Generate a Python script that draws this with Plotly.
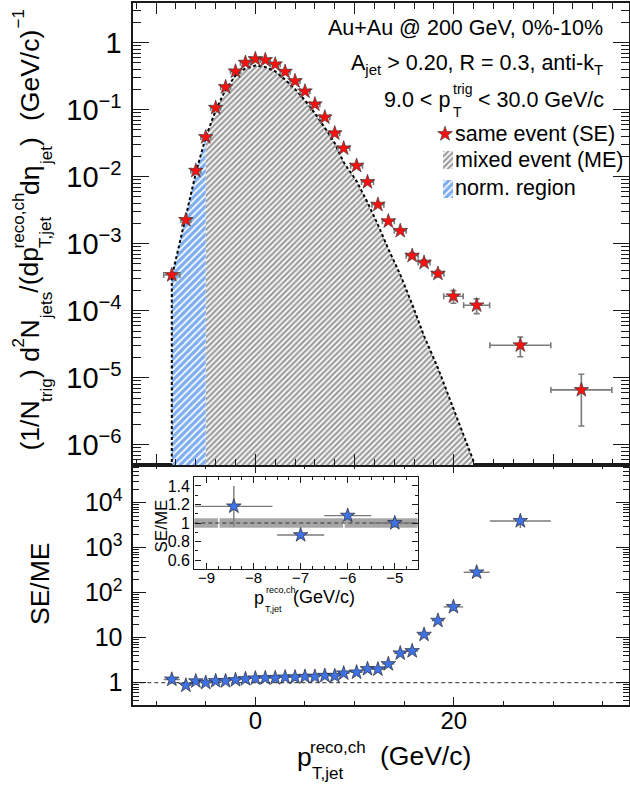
import plotly.graph_objects as go

W, H = 630, 785
FONT = "Liberation Sans, Arial, Helvetica, sans-serif"

# ---------------- data ----------------
bin_centers = [-8.42, -7.0, -6.0, -5.0, -4.0, -3.0, -2.0, -1.0, 0.0, 1.0,
               2.0, 3.0, 4.0, 5.0, 6.0, 7.0, 8.0, 8.9, 10.2, 11.3,
               12.35, 13.4, 14.6, 15.8, 17.0, 18.4, 19.96, 22.3, 26.7, 32.85]
bin_halfwidths = [0.82, 0.5, 0.5, 0.5, 0.5, 0.5, 0.5, 0.5, 0.5, 0.5,
                  0.5, 0.5, 0.5, 0.5, 0.5, 0.5, 0.5, 0.6, 0.6, 0.6,
                  0.6, 0.6, 0.6, 0.6, 0.6, 0.6, 0.98, 1.31, 3.07, 3.07]

se_values = [3.43e-4, 2.27e-3, 1.23e-2, 3.92e-2, 0.107, 0.218, 0.374, 0.503, 0.571, 0.552,
             0.476, 0.369, 0.268, 0.188, 0.1205, 0.0771, 0.0446, 0.0266, 0.01465, 0.00836,
             0.00384, 0.00217, 0.00156, 6.65e-4, 5.24e-4, 3.59e-4, 1.65e-4, 1.21e-4, 3.07e-5, 6.61e-6]
se_errors = [1.5e-5, 5e-5, 2e-4, 5e-4, 1e-3, 2e-3, 3e-3, 4e-3, 4e-3, 4e-3,
             4e-3, 3e-3, 3e-3, 2e-3, 1.5e-3, 1e-3, 7e-4, 5e-4, 3e-4, 2e-4,
             1.2e-4, 9e-5, 8e-5, 6e-5, 5e-5, 4e-5, 3.5e-5, 3e-5, 1.0e-5, 4.7e-6]

me_values = [3.2e-4, 2.6e-3, 1.14e-2, 3.9e-2, 0.098, 0.20, 0.325, 0.416, 0.457, 0.435,
             0.375, 0.28, 0.203, 0.138, 0.0886, 0.0539, 0.0316, 0.0164, 0.00862, 0.00414,
             0.00193, 8.35e-4, 3.47e-4, 1.25e-4, 4.2e-5, 1.4e-5, 3.4e-6, 4.3e-7]
norm_region_bins = 4  # bins -8.5 .. -5 GeV/c

ratio_values = [1.18, 0.87, 1.08, 1.00, 1.09, 1.09, 1.15, 1.21, 1.25, 1.27,
                1.27, 1.32, 1.32, 1.36, 1.36, 1.43, 1.41, 1.62, 1.70, 2.02,
                1.99, 2.60, 4.50, 5.06, 11.7, 23.9, 48.4, 284, 3930]
ratio_errors = [0.22, 0.04, 0.04, 0.04, 0.03, 0.02, 0.02, 0.02, 0.02, 0.02,
                0.02, 0.02, 0.02, 0.02, 0.03, 0.03, 0.04, 0.05, 0.06, 0.08,
                0.1, 0.15, 0.35, 0.6, 1.5, 3.5, 9, 60, 1200]
inset_points = 4

band_edges = [-9.3, -8.74, -6.08, -4.5]
band_low, band_high = 0.94, 1.06

up_tickvals = [1e-6, 1e-5, 1e-4, 1e-3, 1e-2, 1e-1, 1]
up_ticktext = ["10<sup>\u22126</sup>", "10<sup>\u22125</sup>", "10<sup>\u22124</sup>",
               "10<sup>\u22123</sup>", "10<sup>\u22122</sup>", "10<sup>\u22121</sup>", "1"]
lo_tickvals = [1, 10, 100, 1000, 10000]
lo_ticktext = ["1", "10", "10<sup>2</sup>", "10<sup>3</sup>", "10<sup>4</sup>"]
in_y_tickvals = [0.6, 0.8, 1.0, 1.2, 1.4]
in_y_ticktext = ["0.6", "0.8", "1", "1.2", "1.4"]

# ---------------- geometry / style ----------------
X_RANGE = [-12.3, 37.6]
UP_RANGE = [-6.30, 0.597]
LO_RANGE = [-0.496, 4.838]
IN_X_RANGE = [-9.26, -4.5]
IN_Y_RANGE = [0.5, 1.5]
FLOOR = 1e-12

FL, FR = 133.3, 628.5
UP_T, MID, LO_B = 2.7, 465.0, 705.0
IN_L, IN_R, IN_T, IN_B = 194.3, 418.3, 476.7, 569.3

def dx(a, b):
    return [a / W, b / W]

def dy(top, bottom):
    return [1 - bottom / H, 1 - top / H]

LINEC = "#1a1a1a"
RED = "#ff1010"
BLUE = "#3f72e6"
ERRC = "#7a7a7a"
GREY_HATCH = dict(shape="/", fgcolor="#3a3a3a", bgcolor="white", size=4, solidity=0.55)
BLUE_HATCH = dict(shape="/", fgcolor="#005ee0", bgcolor="white", size=5, solidity=0.66)
STAR = 11

def frame(**kw):
    d = dict(showline=True, linecolor=LINEC, linewidth=1.7, mirror="allticks",
             ticks="inside", tickcolor=LINEC, tickwidth=1.2, showgrid=False,
             zeroline=False, tickfont=dict(family=FONT, size=24, color="black"))
    d.update(kw)
    return d

def minor(**kw):
    d = dict(ticks="inside", tickcolor=LINEC, tickwidth=1.0, showgrid=False)
    d.update(kw)
    return d

log_minor = [m * 10.0 ** e for e in range(-7, 5) for m in range(2, 10)]

fig = go.Figure()

# ME histogram: grey hatched area and blue normalisation region
fig.add_trace(go.Scatter(
    x=bin_centers[norm_region_bins - 1:len(me_values)], y=me_values[norm_region_bins - 1:],
    xaxis="x2", yaxis="y", mode="lines", line=dict(width=0), fill="tozeroy",
    fillpattern=GREY_HATCH, hoverinfo="skip"))
fig.add_trace(go.Scatter(
    x=bin_centers[:norm_region_bins], y=me_values[:norm_region_bins],
    xaxis="x2", yaxis="y", mode="lines", line=dict(width=0), fill="tozeroy",
    fillpattern=BLUE_HATCH, hoverinfo="skip"))
fig.add_trace(go.Scatter(
    x=[bin_centers[0]] + bin_centers[:len(me_values)], y=[FLOOR] + me_values,
    xaxis="x2", yaxis="y", mode="lines",
    line=dict(color="black", width=2, dash="3px,2.5px"), hoverinfo="skip"))

# SE points
fig.add_trace(go.Scatter(
    x=bin_centers, y=se_values, xaxis="x2", yaxis="y", mode="markers",
    marker=dict(symbol="star", size=STAR, color=RED, line=dict(color="#3a3a3a", width=0.7)),
    error_y=dict(type="data", array=se_errors, color=ERRC, thickness=1.6, width=3),
    error_x=dict(type="data", array=bin_halfwidths, color=ERRC, thickness=1.6, width=3)))

# ratio panel
fig.add_trace(go.Scatter(
    x=X_RANGE, y=[1, 1], xaxis="x", yaxis="y2", mode="lines",
    line=dict(color="#555555", width=1.2, dash="4px,3px"), hoverinfo="skip"))
fig.add_trace(go.Scatter(
    x=bin_centers[:len(ratio_values)], y=ratio_values, xaxis="x", yaxis="y2", mode="markers",
    marker=dict(symbol="star", size=STAR, color=BLUE, line=dict(color="#2a2a2a", width=0.7)),
    error_y=dict(type="data", array=ratio_errors, color=ERRC, thickness=1.4, width=0),
    error_x=dict(type="data", array=bin_halfwidths[:len(ratio_values)], color=ERRC,
                 thickness=1.4, width=0)))

# inset
fig.add_trace(go.Scatter(
    x=IN_X_RANGE, y=[1, 1], xaxis="x3", yaxis="y3", mode="lines",
    line=dict(color="#333333", width=1.2, dash="4px,3px"), hoverinfo="skip"))
fig.add_trace(go.Scatter(
    x=bin_centers[:inset_points], y=ratio_values[:inset_points], xaxis="x3", yaxis="y3",
    mode="markers",
    marker=dict(symbol="star", size=STAR, color=BLUE, line=dict(color="#2a2a2a", width=0.7)),
    error_y=dict(type="data", array=ratio_errors[:inset_points], color=ERRC, thickness=1.4, width=0),
    error_x=dict(type="data", array=bin_halfwidths[:inset_points], color=ERRC, thickness=1.4, width=0)))

# legend keys (pixel overlay axes)
fig.add_trace(go.Scatter(
    x=[445], y=[134], xaxis="x4", yaxis="y4", mode="markers",
    marker=dict(symbol="star", size=STAR, color=RED, line=dict(color="#3a3a3a", width=0.7))))
fig.add_trace(go.Scatter(
    x=[443, 453, 453, 443, 443], y=[151, 151, 169, 169, 151], xaxis="x4", yaxis="y4",
    mode="lines", line=dict(width=0), fill="toself", fillpattern=GREY_HATCH))
fig.add_trace(go.Scatter(
    x=[443, 453, 453, 443, 443], y=[180, 180, 198, 198, 180], xaxis="x4", yaxis="y4",
    mode="lines", line=dict(width=0), fill="toself", fillpattern=BLUE_HATCH))

shapes = []
for i in range(len(band_edges) - 1):
    shapes.append(dict(type="rect", xref="x3", yref="y3", x0=band_edges[i], x1=band_edges[i + 1],
                       y0=band_low, y1=band_high, fillcolor="#a6a6a6",
                       line=dict(color="white", width=1.5), layer="below"))

def T(text, x, y, size, xa="left", ya="middle", angle=0):
    return dict(text=text, x=x, y=y, xref="x4", yref="y4", showarrow=False,
                xanchor=xa, yanchor=ya, textangle=angle,
                font=dict(family=FONT, size=size, color="black"))

ann = [
    T("Au+Au @ 200 GeV, 0%-10%", 605, 28, 21.5, xa="right"),
    T("A<sub>jet</sub> &gt; 0.20, R = 0.3, anti-k<sub>T</sub>", 605, 64, 21.5, xa="right"),
    T("9.0 &lt; p", 452, 100, 21.5, xa="right"),
    T("trig", 451, 89, 14),
    T("T", 451, 112, 14),
    T("&lt; 30.0 GeV/c", 606, 100, 21.5, xa="right"),
    T("same event (SE)", 453, 134, 21.5),
    T("mixed event (ME)", 453, 160, 21.5),
    T("norm. region", 453, 188, 21.5),
    # x title
    T("p", 295, 757, 26.5),
    T("reco,ch", 308, 747, 17),
    T("T,jet", 310, 773, 17),
    T("(GeV/c)", 378, 756, 26.5),
    # lower y title
    T("SE/ME", 40, 584, 26.5, xa="center", angle=-90),
    # inset titles
    T("SE/ME", 160.5, 526, 17, xa="center", angle=-90),
    T("p", 252, 598, 18),
    T("reco,ch", 263.5, 590, 9),
    T("T,jet", 263, 609, 9),
    T("(GeV/c)", 291, 597, 18),
]
MX, SPX, SBX = 29.5, 18, 46
for text, xc, ys, sz in [("(1/N", MX, 453, 26.5), ("trig", SBX, 404, 17),
                          (")\u00a0d", MX, 380, 26.5), ("2", SPX, 350, 17),
                          ("N", MX, 340.5, 26.5), ("jets", SBX, 321.7, 17),
                          ("/(dp", MX, 295.2, 26.5), ("reco,ch", SPX, 250.4, 17),
                          ("T,jet", SBX, 250.4, 17), ("d\u03b7", MX, 197, 26.5),
                          ("jet", SBX, 167.5, 17), (")", MX, 148, 26.5),
                          ("(GeV/c)", MX, 123, 26.5),
                          ("\u22121", SPX, 31, 17)]:
    ann.append(T(text, xc, ys, sz, xa="center", ya="bottom", angle=-90))

fig.update_layout(
    width=W, height=H, margin=dict(l=0, r=0, t=0, b=0),
    paper_bgcolor="white", plot_bgcolor="rgba(0,0,0,0)", showlegend=False,
    font=dict(family=FONT, color="black"),
    xaxis=frame(domain=dx(FL, FR), range=X_RANGE, anchor="y2", dtick=20, tick0=0, ticklen=8,
                ticklabelstandoff=-7, minor=minor(dtick=5, ticklen=4)),
    xaxis2=frame(domain=dx(FL, FR), range=X_RANGE, anchor="y", matches="x", dtick=10, tick0=0,
                 ticklen=11, showticklabels=False, minor=minor(dtick=2, ticklen=6)),
    yaxis=frame(domain=dy(UP_T, MID), type="log", range=UP_RANGE, anchor="x2",
                tickmode="array", tickvals=up_tickvals, ticktext=up_ticktext, ticklen=16,
                tickfont=dict(family=FONT, size=29, color="black"), ticklabelstandoff=4,
                minor=minor(tickmode="array", tickvals=log_minor, ticklen=8)),
    yaxis2=frame(domain=dy(MID, LO_B), type="log", range=LO_RANGE, anchor="x",
                 tickmode="array", tickvals=lo_tickvals, ticktext=lo_ticktext, ticklen=13,
                 tickfont=dict(family=FONT, size=25, color="black"), ticklabelstandoff=4,
                 minor=minor(tickmode="array", tickvals=log_minor, ticklen=6)),
    xaxis3=frame(domain=dx(IN_L, IN_R), range=IN_X_RANGE, anchor="y3", dtick=1, tick0=0,
                 ticklen=6, linewidth=1.4, tickfont=dict(family=FONT, size=15, color="black"),
                 ticklabelstandoff=-6, minor=minor(dtick=0.25, ticklen=3)),
    yaxis3=frame(domain=dy(IN_T, IN_B), range=IN_Y_RANGE, anchor="x3", tickmode="array",
                 tickvals=in_y_tickvals, ticktext=in_y_ticktext, ticklen=6, linewidth=1.4,
                 tickfont=dict(family=FONT, size=16, color="black"), ticklabelstandoff=0,
                 minor=minor(dtick=0.1, tick0=0, ticklen=3)),
    xaxis4=dict(domain=[0, 1], range=[0, W], anchor="y4", visible=False, fixedrange=True),
    yaxis4=dict(domain=[0, 1], range=[H, 0], anchor="x4", visible=False, fixedrange=True),
    shapes=shapes, annotations=ann,
)

fig.write_html("out.html")
